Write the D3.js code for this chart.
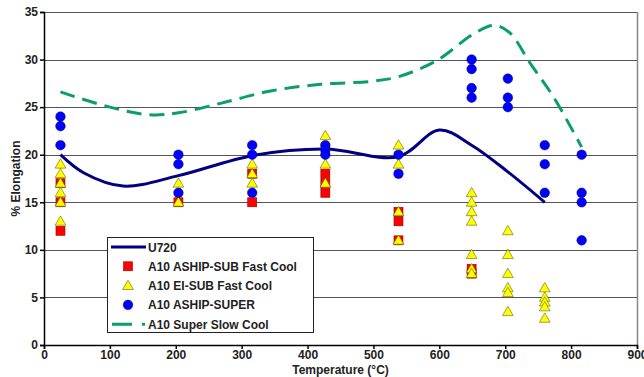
<!DOCTYPE html>
<html>
<head>
<meta charset="utf-8">
<script src="https://cdn.jsdelivr.net/npm/d3@7"></script>
<style>
  body { margin: 0; background: #fff; }
  text { font-family: Arial, "Liberation Sans", sans-serif; font-weight: bold; }
</style>
</head>
<body>
<div id="elongation-viz"></div>
<script>
// Test temperatures (°C) where the samples were pulled
const temps = [25, 204, 316, 427, 538, 649, 704, 760, 816];

// Scatter series: values listed per temperature, same order as temps
const ashipSubFastCool = [[17, 15, 12], [15], [18, 15], [18, 17, 16], [14, 13, 11], [8, 7.5], [], [], []];
const eiSubFastCool = [
  [19, 18, 17, 16, 15, 13], [17, 15], [19, 18, 17], [22, 19, 17], [21, 19, 14, 11],
  [16, 15, 14, 13, 9.5, 8, 7.5], [12, 9.5, 7.5, 6, 5.5, 3.5], [6, 5, 4.5, 4, 2.8], []
];
const ashipSuper = [
  [24, 23, 21], [20, 19, 16], [21, 20, 16], [21, 20.5, 20], [20, 18],
  [30, 29, 27, 26], [28, 26, 25], [21, 19, 16], [20, 16, 15, 11]
];

// Smoothed trend curves
const u720Temps = [25, 60, 120, 204, 316, 427, 538, 600, 649, 704, 760];
const u720Values = [20, 18.1, 16.7, 17.8, 19.9, 20.6, 19.8, 22.6, 21, 18.2, 15];
const slowCoolTemps = [25, 100, 160, 204, 268, 344, 420, 495, 538, 596, 652, 683, 707, 738, 773, 816];
const slowCoolValues = [26.6, 25, 24.2, 24.4, 25.4, 26.7, 27.4, 27.7, 28.2, 29.9, 32.7, 33.6, 32.8, 29.6, 26.1, 20.8];

const xTicks = [0, 100, 200, 300, 400, 500, 600, 700, 800, 900];
const yTicks = [0, 5, 10, 15, 20, 25, 30, 35];

const legendItems = ['U720', 'A10 ASHIP-SUB Fast Cool', 'A10 EI-SUB Fast Cool', 'A10 ASHIP-SUPER', 'A10 Super Slow Cool'];

const flatten = (series) =>
  series.flatMap((vals, i) => vals.map((v) => ({ t: temps[i], v })));

const drawChart = () => {
  const totalWidth = 644;
  const totalHeight = 377;
  const plot = { left: 44, right: 637, top: 12, bottom: 345 };

  const xScale = d3.scaleLinear().domain([0, 900]).range([plot.left, plot.right]);
  const yScale = d3.scaleLinear().domain([0, 35]).range([plot.bottom, plot.top]);

  const svg = d3
    .select('#elongation-viz')
    .append('svg')
    .attr('width', totalWidth)
    .attr('height', totalHeight);

  // horizontal gridlines
  svg
    .append('g')
    .selectAll('line')
    .data(yTicks.filter((d) => d > 0))
    .join('line')
    .attr('x1', plot.left)
    .attr('x2', plot.right)
    .attr('y1', (d) => Math.round(yScale(d)) + 0.5)
    .attr('y2', (d) => Math.round(yScale(d)) + 0.5)
    .attr('stroke', '#555')
    .attr('stroke-width', 1);

  // right border of plot area
  svg
    .append('line')
    .attr('x1', plot.right + 0.5)
    .attr('x2', plot.right + 0.5)
    .attr('y1', plot.top)
    .attr('y2', plot.bottom)
    .attr('stroke', '#888')
    .attr('stroke-width', 1.5);

  // x axis
  const xAxis = svg
    .append('g')
    .attr('transform', `translate(0, ${plot.bottom})`)
    .call(d3.axisBottom(xScale).tickValues(xTicks).tickSize(4).tickPadding(1));
  // y axis
  const yAxis = svg
    .append('g')
    .attr('transform', `translate(${plot.left}, 0)`)
    .call(d3.axisLeft(yScale).tickValues(yTicks).tickSize(4).tickPadding(2));

  [xAxis, yAxis].forEach((g) => {
    g.select('.domain').attr('stroke', '#000').attr('stroke-width', 1.5);
    g.selectAll('.tick line').attr('stroke', '#000').attr('stroke-width', 1.5);
    g.selectAll('text')
      .attr('fill', '#222')
      .style('font-size', '12px')
      .style('font-weight', 'bold')
      .style('font-family', 'Arial, "Liberation Sans", sans-serif');
  });

  // axis titles
  svg
    .append('text')
    .attr('x', (plot.left + plot.right) / 2)
    .attr('y', 374)
    .attr('text-anchor', 'middle')
    .attr('font-size', 12)
    .attr('fill', '#222')
    .text('Temperature (°C)');

  svg
    .append('text')
    .attr('transform', `translate(20, ${(plot.top + plot.bottom) / 2}) rotate(-90)`)
    .attr('text-anchor', 'middle')
    .attr('font-size', 12)
    .attr('fill', '#222')
    .text('% Elongation');

  const curve = d3
    .line()
    .x((d) => xScale(d[0]))
    .y((d) => yScale(d[1]))
    .curve(d3.curveCatmullRom.alpha(0.5));

  // Super slow cool dashed curve
  svg
    .append('path')
    .datum(slowCoolTemps.map((t, i) => [t, slowCoolValues[i]]))
    .attr('fill', 'none')
    .attr('stroke', '#0b9e6c')
    .attr('stroke-width', 3)
    .attr('stroke-dasharray', '15,8')
    .attr('d', curve);

  // U720 curve
  svg
    .append('path')
    .datum(u720Temps.map((t, i) => [t, u720Values[i]]))
    .attr('fill', 'none')
    .attr('stroke', '#000080')
    .attr('stroke-width', 3)
    .attr('d', curve);

  const triangle = d3.symbol().type(d3.symbolTriangle).size(50);

  // red squares
  svg
    .append('g')
    .selectAll('rect')
    .data(flatten(ashipSubFastCool))
    .join('rect')
    .attr('x', (d) => xScale(d.t) - 4.5)
    .attr('y', (d) => yScale(d.v) - 4.5)
    .attr('width', 9)
    .attr('height', 9)
    .attr('fill', '#ff0000')
    .attr('stroke', '#990000')
    .attr('stroke-width', 0.6);

  // yellow triangles
  svg
    .append('g')
    .selectAll('path')
    .data(flatten(eiSubFastCool))
    .join('path')
    .attr('transform', (d) => `translate(${xScale(d.t)}, ${yScale(d.v) + 0.8})`)
    .attr('d', triangle)
    .attr('fill', '#ffff00')
    .attr('stroke', '#666600')
    .attr('stroke-width', 0.6);

  // blue circles
  svg
    .append('g')
    .selectAll('circle')
    .data(flatten(ashipSuper))
    .join('circle')
    .attr('cx', (d) => xScale(d.t))
    .attr('cy', (d) => yScale(d.v))
    .attr('r', 4.8)
    .attr('fill', '#0000ff')
    .attr('stroke', '#000066')
    .attr('stroke-width', 0.5);

  // Legend
  const legend = svg.append('g');
  legend
    .append('rect')
    .attr('x', 107.5)
    .attr('y', 237.5)
    .attr('width', 206)
    .attr('height', 95)
    .attr('fill', '#fff')
    .attr('stroke', '#222')
    .attr('stroke-width', 1);

  const rowY = (i) => 247 + i * 19.3;
  const symX = 128;

  legend
    .append('line')
    .attr('x1', 111)
    .attr('x2', 146)
    .attr('y1', rowY(0))
    .attr('y2', rowY(0))
    .attr('stroke', '#000080')
    .attr('stroke-width', 3);
  legend
    .append('rect')
    .attr('x', symX - 4.5)
    .attr('y', rowY(1) - 4.5)
    .attr('width', 9)
    .attr('height', 9)
    .attr('fill', '#ff0000')
    .attr('stroke', '#990000')
    .attr('stroke-width', 0.6);
  legend
    .append('path')
    .attr('transform', `translate(${symX}, ${rowY(2) + 0.8})`)
    .attr('d', triangle)
    .attr('fill', '#ffff00')
    .attr('stroke', '#666600')
    .attr('stroke-width', 0.6);
  legend
    .append('circle')
    .attr('cx', symX)
    .attr('cy', rowY(3))
    .attr('r', 4.8)
    .attr('fill', '#0000ff')
    .attr('stroke', '#000066')
    .attr('stroke-width', 0.5);
  legend
    .append('line')
    .attr('x1', 112)
    .attr('x2', 145)
    .attr('y1', rowY(4))
    .attr('y2', rowY(4))
    .attr('stroke', '#0b9e6c')
    .attr('stroke-width', 3)
    .attr('stroke-dasharray', '20,10');

  legend
    .selectAll('text.item')
    .data(legendItems)
    .join('text')
    .attr('class', 'item')
    .attr('x', 148)
    .attr('y', (d, i) => rowY(i) + 4.5)
    .attr('font-size', 12)
    .attr('fill', '#222')
    .text((d) => d);
};

drawChart();
</script>
</body>
</html>
